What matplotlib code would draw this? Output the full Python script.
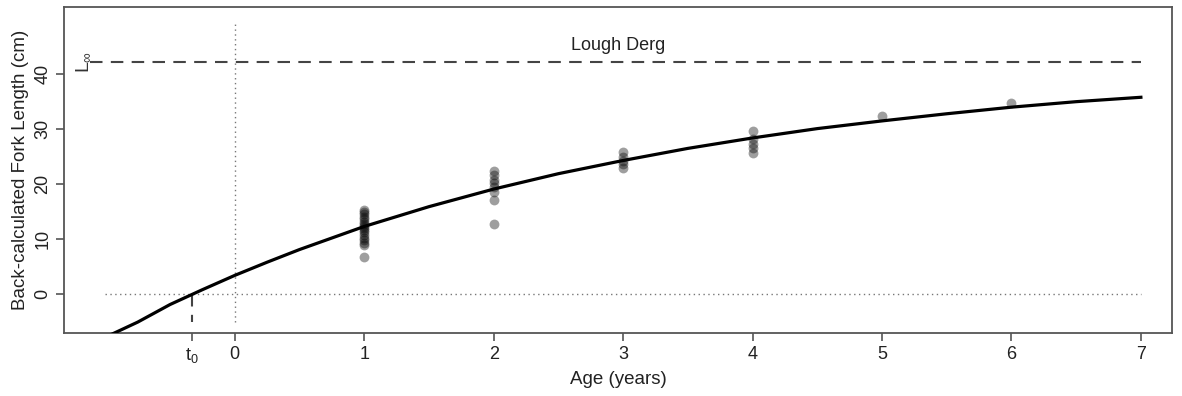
import numpy as np
import matplotlib
matplotlib.use("Agg")
import matplotlib.pyplot as plt

plt.rcParams['font.family'] = ['Liberation Sans', 'DejaVu Sans']
plt.rcParams['mathtext.fontset'] = 'custom'
plt.rcParams['mathtext.rm'] = 'Liberation Sans'
plt.rcParams['mathtext.it'] = 'Liberation Sans'

# von Bertalanffy reference values
L_INF = 42.2
T0 = -0.33

# fitted curve, read at quarter/half-year steps
curve_age = [-0.95, -0.75, -0.5, -0.25, 0, 0.25, 0.5, 0.75, 1, 1.5, 2, 2.5,
             3, 3.5, 4, 4.5, 5, 5.5, 6, 6.5, 7]
curve_len = [-7.3, -5.1, -1.9, 0.8, 3.4, 5.8, 8.1, 10.2, 12.3, 15.9, 19.1,
             21.9, 24.3, 26.5, 28.4, 30.1, 31.5, 32.8, 34.0, 35.0, 35.8]

# back-calculated lengths at each age
age1 = [15.3, 14.9, 14.5, 14.0, 13.6, 13.2, 12.7, 12.3, 12.0, 11.6, 11.2,
        10.7, 10.2, 9.8, 9.3, 8.9, 6.7]
age2 = [22.4, 21.6, 20.8, 20.2, 19.4, 18.6, 17.2, 12.8]
age3 = [25.8, 25.0, 24.2, 23.6, 23.0]
age4 = [29.6, 28.2, 27.3, 26.5, 25.6]
age5 = [32.4]
age6 = [34.8]
ages_obs = [1] * len(age1) + [2] * len(age2) + [3] * len(age3) + \
           [4] * len(age4) + [5] * len(age5) + [6] * len(age6)
len_obs = age1 + age2 + age3 + age4 + age5 + age6

x_ticks = [T0, 0, 1, 2, 3, 4, 5, 6, 7]
x_labels = ["$t_0$", "0", "1", "2", "3", "4", "5", "6", "7"]
y_ticks = [0, 10, 20, 30, 40]

fig = plt.figure(figsize=(11.82, 3.96), dpi=100)
ax = fig.add_axes([0.0541, 0.159, 0.9374, 0.823])

frame = "#555555"
# reference lines
ax.plot([-1.12, 7], [L_INF, L_INF], color="#444444", ls=(0, (6, 4)), lw=1.5)
ax.plot([-1.0, 7], [0, 0], color="#777777", ls=(0, (1, 2.5)), lw=1.0)
ax.plot([0, 0], [-5, 49.5], color="#777777", ls=(0, (1, 2.5)), lw=1.0)
ax.plot([T0, T0], [0, -5], color="#444444", ls=(0, (6, 4)), lw=1.5)

ax.scatter(ages_obs, len_obs, s=50, color="black", alpha=0.38, lw=0, zorder=3)
ax.plot(curve_age, curve_len, color="black", lw=2.3, zorder=4)

ax.text(-1.17, L_INF, r"$L_\infty$", rotation=90, ha="center", va="center",
        fontsize=14, color="#333333")
ax.text(0.5, 0.883, "Lough Derg", transform=ax.transAxes, ha="center",
        va="center", fontsize=13, color="#222222")

ax.set_xlim(-1.32, 7.24)
ax.set_ylim(-7.09, 52.2)
ax.set_xticks(x_ticks)
ax.set_xticklabels(x_labels)
ax.set_yticks(y_ticks)
ax.set_yticklabels([str(v) for v in y_ticks], rotation=90, va="center")
ax.tick_params(length=6, width=1.2, color=frame, labelsize=13,
               labelcolor="#222222", pad=3)
for sp in ax.spines.values():
    sp.set_color(frame)
    sp.set_linewidth(1.3)

ax.set_xlabel("Age (years)", fontsize=13.5, color="#222222", labelpad=5)
ax.set_ylabel("Back-calculated Fork Length (cm)", fontsize=13.5,
              color="#222222", labelpad=4)

fig.savefig("out.png", dpi=100)
